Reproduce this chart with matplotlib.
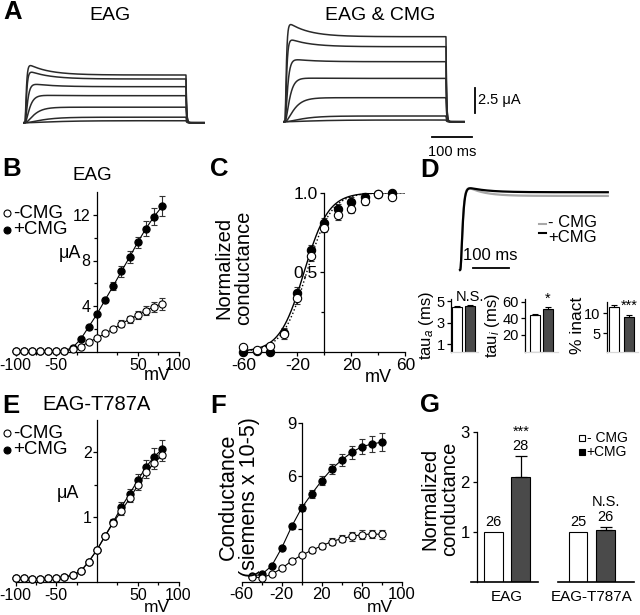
import numpy as np
import matplotlib.pyplot as plt
from matplotlib.lines import Line2D

plt.rcParams['font.family'] = ['Liberation Sans', 'DejaVu Sans']
plt.rcParams['mathtext.fontset'] = 'custom'
plt.rcParams['mathtext.rm'] = 'Liberation Sans'
plt.rcParams['mathtext.it'] = 'Liberation Sans:italic'
plt.rcParams['axes.unicode_minus'] = False
plt.rcParams['axes.linewidth'] = 0.9
for k in ['xtick.major.width', 'ytick.major.width', 'xtick.minor.width', 'ytick.minor.width']:
    plt.rcParams[k] = 0.9

# ---------------- data ----------------
# A: current traces (uA) for the voltage steps, EAG alone and EAG & CMG
step_ms = 400
act_tau = [2.5, 3, 5, 9, 18, 35, 60]
eag_steady = [4.77, 4.37, 3.6, 2.7, 1.55, 0.55, 0.2]
eag_over = [1.3, 1.0, 0.45, 0.12, 0.0, 0.0, 0.0]
cmg_steady = [8.5, 7.5, 6.0, 4.33, 2.4, 0.57, 0.17]
cmg_over = [1.7, 1.0, 0.4, 0.1, 0.0, 0.0, 0.0]

# B: EAG I-V (uA)
iv_mv = [-100, -90, -80, -70, -60, -50, -40, -30, -20, -10, 0, 10, 20, 30, 40, 50, 60, 70, 80]
b_minus = [0.05, 0.05, 0.05, 0.05, 0.05, 0.05, 0.07, 0.2, 0.45, 0.85, 1.2, 1.6, 2.0, 2.45, 2.85, 3.2, 3.6, 3.95, 4.2]
b_minus_err = [0.02, 0.02, 0.02, 0.02, 0.02, 0.02, 0.03, 0.05, 0.06, 0.08, 0.1, 0.12, 0.2, 0.3, 0.32, 0.37, 0.4, 0.44, 0.55]
b_plus = [0.03, 0.03, 0.03, 0.03, 0.03, 0.03, 0.1, 0.35, 1.1, 2.2, 3.3, 4.55, 5.78, 7.05, 8.3, 9.6, 10.8, 11.85, 12.75]
b_plus_err = [0.02, 0.02, 0.02, 0.02, 0.02, 0.02, 0.05, 0.08, 0.1, 0.12, 0.15, 0.2, 0.37, 0.47, 0.5, 0.5, 0.66, 0.73, 0.88]

# C: normalized conductance
c_mv = [-60, -50, -40, -30, -20, -10, 0, 10, 20, 30, 40, 50]
c_minus = [0.03, 0.01, 0.035, 0.11, 0.34, 0.60, 0.78, 0.86, 0.90, 0.945, 0.99, 0.975]
c_plus = [0.0, 0.005, 0.0, 0.12, 0.37, 0.64, 0.81, 0.90, 0.94, 0.975, 0.99, 1.0]
c_err = [0.01, 0.01, 0.02, 0.03, 0.04, 0.03, 0.03, 0.03, 0.03, 0.02, 0.01, 0.01]
c_vhalf = [-13.0, -15.0]   # Boltzmann fits (-CMG, +CMG)
c_slope = [9.0, 9.0]

# D: inactivation kinetics
d_tau_a = [4.5, 4.55]
d_tau_a_err = [0.08, 0.1]
d_tau_i = [44, 51]
d_tau_i_err = [1, 2]
d_inact = [11.7, 9.2]
d_inact_err = [0.5, 0.5]
d_sig = ['N.S.', '*', '***']
d_trace_ss = [0.83, 0.91]   # steady fraction of the normalized traces (-CMG, +CMG)

# E: EAG-T787A I-V (uA)
e_minus = [0.06, 0.06, 0.05, 0.05, 0.06, 0.06, 0.08, 0.11, 0.17, 0.32, 0.5, 0.71, 0.92, 1.1, 1.29, 1.49, 1.69, 1.83, 1.96]
e_minus_err = [0.01, 0.01, 0.01, 0.01, 0.01, 0.01, 0.01, 0.02, 0.02, 0.02, 0.03, 0.03, 0.04, 0.06, 0.06, 0.07, 0.08, 0.09, 0.1]
e_plus = [0.06, 0.06, 0.05, 0.05, 0.06, 0.06, 0.08, 0.11, 0.17, 0.32, 0.5, 0.72, 0.93, 1.16, 1.36, 1.57, 1.77, 1.93, 2.05]
e_plus_err = [0.01, 0.01, 0.01, 0.01, 0.01, 0.01, 0.01, 0.02, 0.02, 0.02, 0.03, 0.03, 0.04, 0.07, 0.08, 0.1, 0.11, 0.13, 0.14]

# F: conductance (siemens x 10-5)
f_mv = [-50, -40, -30, -20, -10, 0, 10, 20, 30, 40, 50, 60, 70, 80]
f_plus = [0.32, 0.41, 0.9, 1.91, 3.13, 4.18, 4.97, 5.72, 6.38, 6.89, 7.32, 7.64, 7.79, 7.9]
f_plus_err = [0.08, 0.08, 0.1, 0.12, 0.15, 0.2, 0.22, 0.25, 0.3, 0.35, 0.38, 0.42, 0.45, 0.5]
f_minus = [0.28, 0.22, 0.43, 0.75, 1.18, 1.5, 1.78, 2.03, 2.27, 2.44, 2.57, 2.66, 2.7, 2.68]
f_minus_err = [0.05, 0.05, 0.06, 0.08, 0.1, 0.12, 0.15, 0.17, 0.2, 0.22, 0.24, 0.25, 0.25, 0.25]

# G: normalized conductance, counts and significance
g_groups = ['EAG', 'EAG-T787A']
g_minus = [1.0, 1.0]
g_plus = [2.09, 1.03]
g_plus_err = [0.42, 0.07]
g_n_minus = [26, 25]
g_n_plus = [28, 26]
g_sig = ['***', 'N.S.']

# ---------------- layout helpers (pixel based) ----------------
W, H = 640, 615
fig = plt.figure(figsize=(W / 100, H / 100), dpi=100)


def box(l, t, r, b):
    return fig.add_axes([l / W, 1 - b / H, (r - l) / W, (b - t) / H])


def ftext(x, y, s, **kw):
    fig.text(x / W, 1 - y / H, s, **kw)


def fmark(x, y, **kw):
    fig.add_artist(Line2D([x / W], [1 - y / H], ls='none', **kw))


def fline(x0, x1, y, **kw):
    fig.add_artist(Line2D([x0 / W, x1 / W], [1 - y / H, 1 - y / H], **kw))


def cross_axes(ax, size=11.5, pad=1.5):
    ax.spines['left'].set_position(('data', 0))
    ax.spines[['top', 'right']].set_visible(False)
    ax.tick_params(which='both', direction='out', length=3, pad=pad, labelsize=size)
    ax.tick_params(which='minor', length=2)


def series(ax, x, y, e, filled, line=True, ms=5.2):
    ax.errorbar(x, y, yerr=e, fmt='none', ecolor='#333333', elinewidth=0.8,
                capsize=2.5, capthick=0.8, zorder=2, clip_on=False)
    if line:
        ax.plot(x, y, '-', color='k', lw=0.8, zorder=3, clip_on=False)
    ax.plot(x, y, 'o', ms=ms, mfc='k' if filled else 'white', mec='k', mew=0.8,
            zorder=4 if filled else 5, clip_on=False)


def step_current(t, steady, over, tau):
    tt = np.clip(t, 0, step_ms)
    cur = (1 - np.exp(-tt / tau)) ** 2 * (steady + over * np.exp(-tt / 50))
    cur = np.where(t < 0, 0, cur)
    return np.where(t > step_ms, cur * np.exp(-(t - step_ms) / 1.5), cur)


# ---------------- A ----------------
t = np.linspace(-3, 445, 3000)
axA1 = box(23, 22.7, 206.1, 125.7)
axA2 = box(283, 21.7, 466.1, 124.7)
for ax, st, ov in [(axA1, eag_steady, eag_over), (axA2, cmg_steady, cmg_over)]:
    for s, o, tau in zip(st, ov, act_tau):
        ax.plot(t, step_current(t, s, o, tau), color='#2a2a2a', lw=1.1)
    ax.set_xlim(-5, 450)
    ax.set_ylim(-0.3, 10)
    ax.axis('off')
axA2.plot([472, 472], [0.87, 3.37], color='k', lw=1.3, clip_on=False)
axA2.plot([365, 465], [-1.53, -1.53], color='k', lw=1.3, clip_on=False)
axA2.text(480, 2.17, '2.5 μA', fontsize=10.5, va='center', ha='left')
axA2.text(415, -3.0, '100 ms', fontsize=10.5, va='center', ha='center')
ftext(3, 12, 'A', fontsize=18.5, fontweight='bold', va='center')
ftext(110, 15, 'EAG', fontsize=14, ha='center', va='center')
ftext(380, 15, 'EAG & CMG', fontsize=14, ha='center', va='center')

# ---------------- B ----------------
axB = box(15.5, 192.1, 178.5, 351.7)
series(axB, iv_mv, b_plus, b_plus_err, True)
series(axB, iv_mv, b_minus, b_minus_err, False)
axB.set_xlim(-100, 100)
axB.set_ylim(0, 14)
axB.set_xticks([-100, -50, 50, 100])
axB.set_xticks([-75, -25, 25, 75], minor=True)
axB.set_yticks([4, 8, 12])
axB.set_yticks([2, 6, 10], minor=True)
cross_axes(axB)
ftext(2, 169, 'B', fontsize=18.5, fontweight='bold', va='center')
ftext(92.5, 175, 'EAG', fontsize=13.5, ha='center', va='center')
ftext(81, 253, 'μA', fontsize=13, ha='right', va='center')
ftext(157, 376, 'mV', fontsize=13, ha='center', va='center')
fmark(7, 213, marker='o', ms=5, mfc='white', mec='k', mew=0.8)
fmark(7, 230, marker='o', ms=5, mfc='k', mec='k', mew=0.8)
ftext(13, 213, '-CMG', fontsize=13.5, va='center')
ftext(13, 230, '+CMG', fontsize=13.5, va='center')

# ---------------- C ----------------
axC = box(243.3, 192.7, 405.3, 351.7)
v = np.linspace(-60, 60, 400)
axC.plot(v, 1 / (1 + np.exp((c_vhalf[1] - v) / c_slope[1])), color='k', lw=1.0, zorder=3)
axC.plot(v, 1 / (1 + np.exp((c_vhalf[0] - v) / c_slope[0])), color='k', lw=1.0, ls=':', zorder=3)
series(axC, c_mv, c_plus, c_err, True, line=False, ms=6)
series(axC, c_mv, c_minus, c_err, False, line=False, ms=6)
axC.set_xlim(-60, 60)
axC.set_ylim(0, 1)
axC.set_xticks([-60, -20, 20, 60])
axC.set_xticks([-40, 0, 40], minor=True)
axC.set_yticks([0.5, 1.0], ['0.5', '1.0'])
axC.set_yticks([0.25, 0.75], minor=True)
cross_axes(axC, 12.5)
ftext(210, 169, 'C', fontsize=18.5, fontweight='bold', va='center')
ftext(234, 268, 'Normalized\nconductance', fontsize=14.5, rotation=90,
      ha='center', va='center', linespacing=1.05)
ftext(378, 378, 'mV', fontsize=13, ha='center', va='center')

# ---------------- D ----------------
axD = box(455, 180.1, 615, 274.1)
td = np.linspace(0, 410, 1500)
for ss, ti, col in [(d_trace_ss[0], d_tau_i[0], '#a8a8a8'), (d_trace_ss[1], d_tau_i[1], 'k')]:
    y = (1 - np.exp(-td / 4.5)) ** 3 * (ss + (1 - ss) * np.exp(-td / ti))
    axD.plot(td, y / y.max(), color=col, lw=1.6)
axD.plot([35, 135], [0.02, 0.02], color='k', lw=1.3)
axD.text(85, 0.18, '100 ms', fontsize=12, ha='center', va='center')
axD.set_xlim(-14, 430)
axD.set_ylim(-0.05, 1.1)
axD.axis('off')
fline(539, 546, 224, color='#a8a8a8', lw=1.5)
fline(539, 546, 232.7, color='k', lw=1.5)
ftext(548, 223, '- CMG', fontsize=12, va='center')
ftext(548, 237.5, '+CMG', fontsize=12, va='center')
ftext(420, 170, 'D', fontsize=18.5, fontweight='bold', va='center')

bar_specs = [
    ((451, 299.3, 477.9, 352), (-0.43, 1.6), (0.25, 5.2), 0.75, d_tau_a, d_tau_a_err, [1, 3, 5]),
    ((525.2, 299, 557.7, 351.7), (-0.75, 1.75), (0, 63), 0.77, d_tau_i, d_tau_i_err, [20, 40, 60]),
    ((606.7, 302.1, 638.1, 352.1), (-0.49, 1.6), (0.3, 12.8), 0.67, d_inact, d_inact_err, [5, 10]),
]
for (rect, xl, yl, wd, vals, errs, yt), sig in zip(bar_specs, d_sig):
    ax = box(*rect)
    ax.bar([0, 1], vals, width=wd, color=['white', '#4a4a4a'], edgecolor='k', lw=0.8,
           yerr=[[0, 0], errs], capsize=2, error_kw=dict(elinewidth=0.8, capthick=0.8))
    ax.set_xlim(*xl)
    ax.set_ylim(*yl)
    ax.set_xticks([])
    ax.set_yticks(yt)
    ax.spines[['top', 'right']].set_visible(False)
    ax.spines['bottom'].set_color('#d8d8d8')
    ax.tick_params(axis='y', length=3, pad=1.5, labelsize=10.5)
    ax.annotate(sig, (1, vals[1] + errs[1]), xytext=(0, 1), textcoords='offset points',
                ha='center', va='bottom', fontsize=10.5)
ftext(426, 325, r'$\mathrm{tau}_a$ (ms)', fontsize=12, rotation=90, ha='center', va='center')
ftext(492.5, 325.5, r'$\mathrm{tau}_i$ (ms)', fontsize=12, rotation=90, ha='center', va='center')
ftext(577.5, 325, '% inact', fontsize=12.5, rotation=90, ha='center', va='center')

# ---------------- E ----------------
axE = box(15.5, 419.8, 178.5, 582.3)
series(axE, iv_mv, e_plus, e_plus_err, True)
series(axE, iv_mv, e_minus, e_minus_err, False)
axE.set_xlim(-100, 100)
axE.set_ylim(0, 2.5)
axE.set_xticks([-100, -50, 50, 100])
axE.set_xticks([-75, -25, 25, 75], minor=True)
axE.set_yticks([1, 2])
axE.set_yticks([0.5, 1.5], minor=True)
cross_axes(axE, pad=0.8)
ftext(2, 406, 'E', fontsize=18.5, fontweight='bold', va='center')
ftext(97, 405, 'EAG-T787A', fontsize=14.5, ha='center', va='center')
ftext(79, 493, 'μA', fontsize=13, ha='right', va='center')
ftext(157, 614.5, 'mV', fontsize=12.5, ha='center', va='bottom')
fmark(7, 433, marker='o', ms=5, mfc='white', mec='k', mew=0.8)
fmark(7, 450, marker='o', ms=5, mfc='k', mec='k', mew=0.8)
ftext(13, 433, '-CMG', fontsize=13.5, va='center')
ftext(13, 450, '+CMG', fontsize=13.5, va='center')

# ---------------- F ----------------
axF = box(241.7, 422.7, 401.7, 581.7)
series(axF, f_mv, f_plus, f_plus_err, True)
series(axF, f_mv, f_minus, f_minus_err, False)
axF.set_xlim(-60, 100)
axF.set_ylim(0, 9)
axF.set_xticks([-60, -20, 20, 60, 100])
axF.set_xticks([-40, 0, 40, 80], minor=True)
axF.set_yticks([3, 6, 9], ['', '6', '9'])
cross_axes(axF, 12, pad=0.8)
ftext(210, 406, 'F', fontsize=18.5, fontweight='bold', va='center')
ftext(239, 497, 'Conductance\n(siemens x 10-5)', fontsize=15.5, rotation=90,
      ha='center', va='center', linespacing=1.05)
ftext(380, 614.5, 'mV', fontsize=12.5, ha='center', va='bottom')

# ---------------- G ----------------
axG = box(477.3, 431.7, 633.5, 581.7)
gx = np.arange(len(g_groups))
off, bw = 0.1625, 0.22
axG.bar(gx - off, g_minus, width=bw, color='white', edgecolor='k', lw=0.8)
axG.bar(gx + off, g_plus, width=bw, color='#4a4a4a', edgecolor='k', lw=0.8,
        yerr=[[0, 0], g_plus_err], capsize=4, error_kw=dict(elinewidth=0.9, capthick=0.9))
for i in range(len(g_groups)):
    axG.annotate(str(g_n_minus[i]), (gx[i] - off, g_minus[i]), xytext=(0, 2),
                 textcoords='offset points', ha='center', va='bottom', fontsize=10.5)
    top = g_plus[i] + g_plus_err[i]
    axG.annotate(str(g_n_plus[i]), (gx[i] + off, top), xytext=(0, 2),
                 textcoords='offset points', ha='center', va='bottom', fontsize=10.5)
    axG.annotate(g_sig[i], (gx[i] + off, top), xytext=(0, 12.5),
                 textcoords='offset points', ha='center', va='bottom', fontsize=10.5)
axG.plot([gx[0] - 0.43, gx[0] + 0.37], [0, 0], color='k', lw=1.2, clip_on=False)
axG.plot([gx[1] - 0.40, gx[1] + 0.49], [0, 0], color='k', lw=1.2, clip_on=False)
axG.set_xlim(-0.35, 1.49)
axG.set_ylim(0, 3)
axG.set_xticks(gx, g_groups)
axG.set_yticks([1, 2, 3])
axG.spines[['top', 'right', 'bottom']].set_visible(False)
axG.tick_params(axis='x', length=0, pad=6, labelsize=11)
axG.tick_params(axis='y', length=3, pad=2.5, labelsize=12)
ftext(420, 405, 'G', fontsize=18.5, fontweight='bold', va='center')
ftext(440, 499, 'Normalized\nconductance', fontsize=14.5, rotation=90,
      ha='center', va='center', linespacing=1.05)
fmark(582, 438, marker='s', ms=5, mfc='white', mec='k', mew=0.8)
fmark(582, 451.5, marker='s', ms=5, mfc='k', mec='k', mew=0.8)
ftext(586.7, 438, '- CMG', fontsize=10, va='center')
ftext(586.7, 451.5, '+CMG', fontsize=10, va='center')

fig.savefig('out.png', dpi=100)
